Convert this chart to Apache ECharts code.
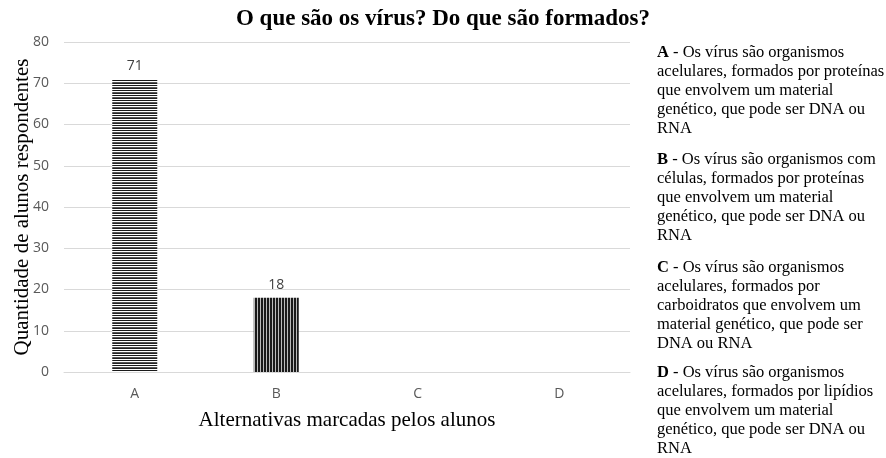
<!DOCTYPE html>
<html>
<head>
<meta charset="utf-8">
<script src="https://cdn.jsdelivr.net/npm/echarts@6/dist/echarts.min.js"></script>
<style>html,body{margin:0;padding:0;background:#fff}#c{width:886px;height:458px}</style>
</head>
<body>
<div id="c"></div>
<script>
const categories = ['A', 'B', 'C', 'D'];
const values = [71, 18, 0, 0];
const yTicks = [0, 10, 20, 30, 40, 50, 60, 70, 80];
const chartTitle = 'O que são os vírus? Do que são formados?';
const xName = 'Alternativas marcadas pelos alunos';
const yName = 'Quantidade de alunos respondentes';
const notes = [
  ['A', ['Os vírus são organismos', 'acelulares, formados por proteínas', 'que envolvem um material', 'genético, que pode ser DNA ou', 'RNA']],
  ['B', ['Os vírus são organismos com', 'células, formados por proteínas', 'que envolvem um material', 'genético, que pode ser DNA ou', 'RNA']],
  ['C', ['Os vírus são organismos', 'acelulares, formados por', 'carboidratos que envolvem um', 'material genético, que pode ser', 'DNA ou RNA']],
  ['D', ['Os vírus são organismos', 'acelulares, formados por lipídios', 'que envolvem um material', 'genético, que pode ser DNA ou', 'RNA']]
];
const noteTops = [43, 150, 258, 363];

function makePattern(w, h, draw) {
  const cv = document.createElement('canvas');
  cv.width = w; cv.height = h;
  const ctx = cv.getContext('2d');
  ctx.fillStyle = '#ffffff';
  ctx.fillRect(0, 0, w, h);
  draw(ctx);
  return { image: cv, repeat: 'repeat' };
}
const horiz = makePattern(4, 5, ctx => {
  ctx.fillStyle = '#1a1a1a';
  ctx.fillRect(0, 0, 4, 1);
  ctx.fillStyle = '#555';
  ctx.fillRect(0, 2, 4, 1);
  ctx.fillStyle = '#222';
  ctx.fillRect(0, 3, 4, 1);
});
const vert = makePattern(3, 4, ctx => {
  ctx.fillStyle = '#1a1a1a';
  ctx.fillRect(0, 0, 2, 4);
  ctx.fillStyle = '#bbbbbb';
  ctx.fillRect(2, 0, 1, 4);
});
const patterns = [horiz, vert, horiz, vert];

const chart = echarts.init(document.getElementById('c'), null, { renderer: 'canvas' });

const graphics = notes.map((n, i) => ({
  type: 'text',
  left: 657,
  top: noteTops[i],
  style: {
    text: '{b|' + n[0] + '} - ' + n[1].join('\n'),
    font: '16.5px "Liberation Serif", "Times New Roman", serif',
    fill: '#000',
    lineHeight: 19,
    rich: {
      b: { fontWeight: 'bold', fontSize: 16.5, fontFamily: '"Liberation Serif", serif', fill: '#000', lineHeight: 19 }
    }
  }
}));

chart.setOption({
  animation: false,
  title: {
    text: chartTitle,
    left: 'center',
    top: 3,
    textStyle: { fontFamily: '"Liberation Serif", "Times New Roman", serif', fontWeight: 'bold', fontSize: 23, color: '#000' }
  },
  grid: { left: 64, right: 256, top: 42, bottom: 86, containLabel: false, outerBoundsMode: 'none' },
  xAxis: {
    type: 'category',
    data: categories,
    name: xName,
    nameLocation: 'middle',
    nameGap: 38,
    nameMoveOverlap: false,
    nameTextStyle: { fontFamily: '"Liberation Serif", serif', fontSize: 21, color: '#000' },
    axisLine: { lineStyle: { color: '#d9d9d9' } },
    axisTick: { show: false },
    axisLabel: { color: '#595959', fontSize: 14, fontFamily: '"Open Sans", sans-serif', margin: 15 }
  },
  yAxis: {
    type: 'value',
    min: 0, max: 80, interval: 10,
    name: yName,
    nameLocation: 'middle',
    nameGap: 31,
    nameMoveOverlap: false,
    nameTextStyle: { fontFamily: '"Liberation Serif", serif', fontSize: 21, color: '#000' },
    axisLine: { show: false },
    axisTick: { show: false },
    axisLabel: { color: '#595959', fontSize: 14, fontFamily: '"Open Sans", sans-serif', margin: 15,
      formatter: v => yTicks.includes(v) ? String(v) : '' },
    splitLine: { lineStyle: { color: '#d9d9d9' } }
  },
  series: [{
    type: 'bar',
    barWidth: 45,
    data: values.map((v, i) => ({ value: v, itemStyle: { color: patterns[i] } })),
    label: {
      show: true,
      position: 'top',
      distance: 6,
      color: '#404040',
      fontSize: 14,
      fontFamily: '"Open Sans", sans-serif',
      formatter: p => p.value ? String(p.value) : ''
    }
  }],
  graphic: graphics
});
</script>
</body>
</html>
